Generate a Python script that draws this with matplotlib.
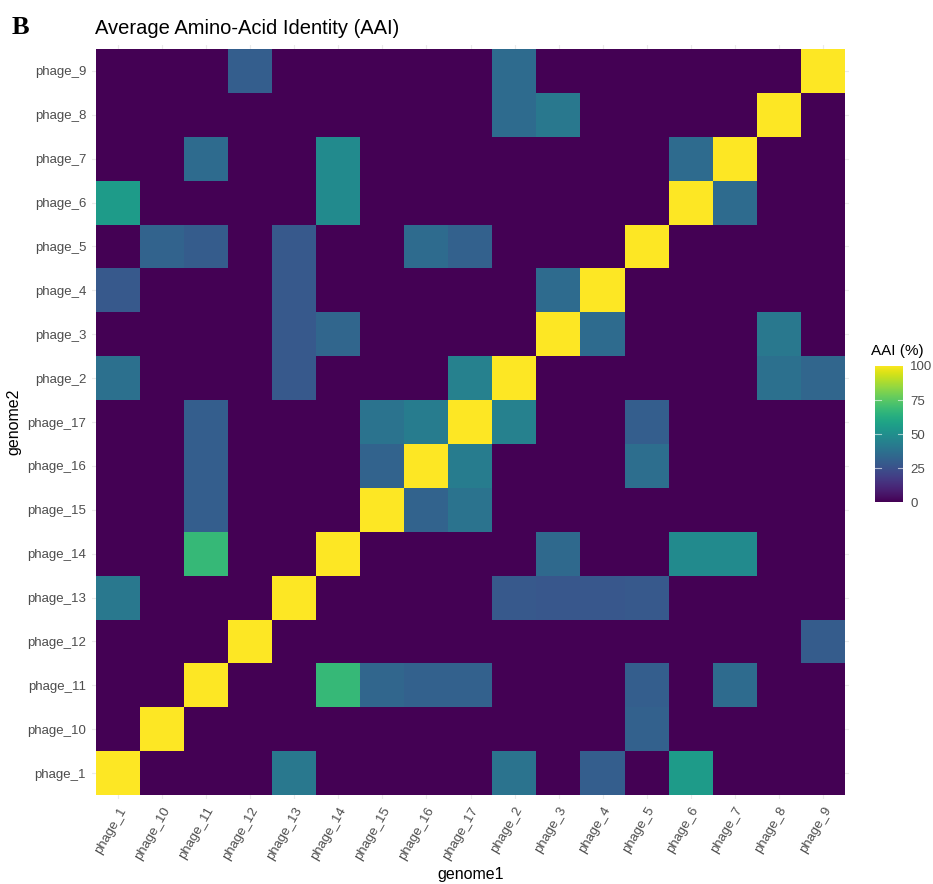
import numpy as np
import matplotlib
matplotlib.use("Agg")
import matplotlib.pyplot as plt

plt.rcParams['font.family'] = ['Liberation Sans', 'DejaVu Sans']

# genome order (alphabetical, as in the reference)
genomes = ["phage_1", "phage_10", "phage_11", "phage_12", "phage_13", "phage_14",
           "phage_15", "phage_16", "phage_17", "phage_2", "phage_3", "phage_4",
           "phage_5", "phage_6", "phage_7", "phage_8", "phage_9"]

# off-diagonal AAI values (genome2, genome1, AAI %)
row_p1 = [("phage_1", "phage_13", 40), ("phage_1", "phage_2", 38), ("phage_1", "phage_4", 30), ("phage_1", "phage_6", 55)]
row_p10 = [("phage_10", "phage_5", 31)]
row_p11 = [("phage_11", "phage_14", 67), ("phage_11", "phage_15", 33), ("phage_11", "phage_16", 31),
           ("phage_11", "phage_17", 31), ("phage_11", "phage_5", 30), ("phage_11", "phage_7", 35)]
row_p12 = [("phage_12", "phage_9", 29)]
row_p13 = [("phage_13", "phage_1", 40), ("phage_13", "phage_2", 28), ("phage_13", "phage_3", 27),
           ("phage_13", "phage_4", 27), ("phage_13", "phage_5", 28)]
row_p14 = [("phage_14", "phage_11", 67), ("phage_14", "phage_3", 34), ("phage_14", "phage_6", 48), ("phage_14", "phage_7", 48)]
row_p15 = [("phage_15", "phage_11", 30), ("phage_15", "phage_16", 32), ("phage_15", "phage_17", 38)]
row_p16 = [("phage_16", "phage_11", 30), ("phage_16", "phage_15", 32), ("phage_16", "phage_17", 42), ("phage_16", "phage_5", 36)]
row_p17 = [("phage_17", "phage_11", 30), ("phage_17", "phage_15", 38), ("phage_17", "phage_16", 42),
           ("phage_17", "phage_2", 44), ("phage_17", "phage_5", 30)]
row_p2 = [("phage_2", "phage_1", 37), ("phage_2", "phage_13", 28), ("phage_2", "phage_17", 44),
          ("phage_2", "phage_8", 37), ("phage_2", "phage_9", 33)]
row_p3 = [("phage_3", "phage_13", 28), ("phage_3", "phage_14", 33), ("phage_3", "phage_4", 35), ("phage_3", "phage_8", 40)]
row_p4 = [("phage_4", "phage_1", 28), ("phage_4", "phage_13", 28), ("phage_4", "phage_3", 35)]
row_p5 = [("phage_5", "phage_10", 32), ("phage_5", "phage_11", 29), ("phage_5", "phage_13", 28),
          ("phage_5", "phage_16", 35), ("phage_5", "phage_17", 31)]
row_p6 = [("phage_6", "phage_1", 55), ("phage_6", "phage_14", 48), ("phage_6", "phage_7", 35)]
row_p7 = [("phage_7", "phage_11", 35), ("phage_7", "phage_14", 48), ("phage_7", "phage_6", 35)]
row_p8 = [("phage_8", "phage_2", 35), ("phage_8", "phage_3", 40)]
row_p9 = [("phage_9", "phage_12", 30), ("phage_9", "phage_2", 35)]

pairs = (row_p1 + row_p10 + row_p11 + row_p12 + row_p13 + row_p14 + row_p15 + row_p16 + row_p17
         + row_p2 + row_p3 + row_p4 + row_p5 + row_p6 + row_p7 + row_p8 + row_p9)

n = len(genomes)
idx = {g: i for i, g in enumerate(genomes)}
aai = np.zeros((n, n))
for i in range(n):
    aai[i, i] = 100
for g2, g1, v in pairs:
    aai[idx[g2], idx[g1]] = v

fig = plt.figure(figsize=(9.33, 8.84), dpi=100)
ax = fig.add_axes([0.0982, 0.0957, 0.8122, 0.8538])

# light grid like theme_minimal, behind the tiles
for k in range(n):
    ax.axvline(k, color='#ebebeb', lw=0.8, zorder=0)
    ax.axhline(k, color='#ebebeb', lw=0.8, zorder=0)

ax.imshow(aai, cmap='viridis', vmin=0, vmax=100, origin='lower', aspect='auto',
          extent=(-0.5, n - 0.5, -0.5, n - 0.5), zorder=2, interpolation='nearest')
ax.set_xlim(-0.6, n - 0.4)
ax.set_ylim(-0.6, n - 0.4)

for s in ax.spines.values():
    s.set_visible(False)
ax.set_xticks(range(n))
ax.set_yticks(range(n))
ax.set_xticklabels(genomes, rotation=60, ha='right', rotation_mode='anchor', fontsize=9.5, color='#4d4d4d')
ax.set_yticklabels(genomes, fontsize=9.5, color='#4d4d4d')
ax.tick_params(length=0, pad=4)
ax.set_xlabel('genome1', fontsize=11.5, labelpad=4)
ax.set_ylabel('genome2', fontsize=11.5, labelpad=4)

fig.text(0.102, 0.962, 'Average Amino-Acid Identity (AAI)', fontsize=14.5, va='baseline')
fig.text(0.012, 0.962, 'B', fontsize=19, fontweight='bold', family='Liberation Serif', va='baseline')

# colorbar
cax = fig.add_axes([0.938, 0.432, 0.030, 0.154])
grad = np.linspace(0, 100, 256).reshape(-1, 1)
cax.imshow(grad, cmap='viridis', vmin=0, vmax=100, origin='lower', aspect='auto', extent=(0, 1, 0, 100))
cax.set_xlim(0, 1)
cax.set_ylim(0, 100)
for s in cax.spines.values():
    s.set_visible(False)
cax.set_xticks([])
cbar_ticks = [0, 25, 50, 75, 100]
cax.yaxis.tick_right()
cax.set_yticks(cbar_ticks)
cax.set_yticklabels([str(t) for t in cbar_ticks], fontsize=9.5, color='#4d4d4d')
cax.tick_params(length=0, pad=5)
for t in cbar_ticks[1:-1]:
    cax.plot([0, 0.2], [t, t], color='white', lw=0.8, alpha=0.6)
    cax.plot([0.8, 1], [t, t], color='white', lw=0.8, alpha=0.6)
fig.text(0.934, 0.598, 'AAI (%)', fontsize=11, va='baseline')

fig.savefig('out.png', dpi=100)
